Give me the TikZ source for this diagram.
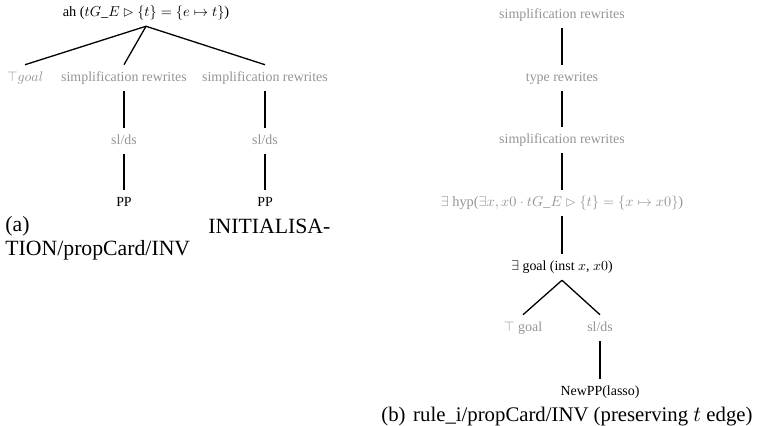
\documentclass[tikz,border=0pt]{standalone}
\usepackage{graphicx}
\usepackage{amssymb}
\usepackage{fontspec}
\setmainfont{Liberation Serif}
\definecolor{lg}{gray}{0.58}
\newcommand{\sx}[1]{\scalebox{0.64}{\fontsize{10}{12}\selectfont #1}}
\newcommand{\mx}[1]{\scalebox{0.66}{\fontsize{10}{12}\selectfont #1}}
\tikzset{
  tn/.style={inner sep=3pt, text height=4.4pt, text depth=1.4pt},
  gn/.style={tn, text=lg},
  bn/.style={tn, text=black},
  conn/.style={draw=black, line width=0.6pt},
  captext/.style={inner sep=0pt, anchor=west, font=\fontsize{10}{12}\selectfont}
}
\begin{document}
\begin{tikzpicture}[x=0.46pt,y=-0.46pt]
\useasboundingbox (0,0) rectangle (759,426);
% left tree
\node[bn] (root) at (146,13) {\mx{ah ($tG\_E \rhd \{t\} = \{e \mapsto t\}$)}};
\node[gn] (tg) at (25,78) {\sx{$\top goal$}};
\node[gn] (s1) at (124,78) {\sx{simplification rewrites}};
\node[gn] (s2) at (265,78) {\sx{simplification rewrites}};
\node[gn] (d1) at (124,141) {\sx{sl/ds}};
\node[gn] (d2) at (265,141) {\sx{sl/ds}};
\node[bn] (p1) at (124,203) {\sx{PP}};
\node[bn] (p2) at (265,203) {\sx{PP}};
\draw[conn] (root.south) -- (tg.north);
\draw[conn] (root.south) -- (s1.north);
\draw[conn] (root.south) -- (s2.north);
\draw[conn] (s1) -- (d1);
\draw[conn] (s2) -- (d2);
\draw[conn] (d1) -- (p1);
\draw[conn] (d2) -- (p2);
\node[captext] (ca1) at (5,226) {(a)};
\node[captext] (ca2) at (208,226) {INITIALISA-};
\node[captext] (ca3) at (5,250) {TION/propCard/INV};
% right tree
\node[gn] (r1) at (562,15) {\sx{simplification rewrites}};
\node[gn] (r2) at (562,78) {\sx{type rewrites}};
\node[gn] (r3) at (562,140) {\sx{simplification rewrites}};
\node[gn] (r4) at (562,203) {\mx{$\exists$ hyp($\exists x, x0 \cdot tG\_E \rhd \{t\} = \{x \mapsto x0\}$)}};
\node[bn] (r5) at (562,267) {\sx{$\exists$ goal (inst $x$, $x0$)}};
\node[gn] (r6) at (523,328) {\sx{$\top$ goal}};
\node[gn] (r7) at (600,328) {\sx{sl/ds}};
\node[bn] (r8) at (600,392) {\sx{NewPP(lasso)}};
\draw[conn] (r1) -- (r2);
\draw[conn] (r2) -- (r3);
\draw[conn] (r3) -- (r4);
\draw[conn] (r4) -- (r5);
\draw[conn] (r5.south) -- (r6.north);
\draw[conn] (r5.south) -- (r7.north);
\draw[conn] (r7) -- (r8);
\node[captext, font=\fontsize{9.55}{11}\selectfont] (cb) at (381,417) {(b)\hspace{3.5pt}rule\_i/propCard/INV (preserving $t$ edge)};
\end{tikzpicture}
\end{document}
